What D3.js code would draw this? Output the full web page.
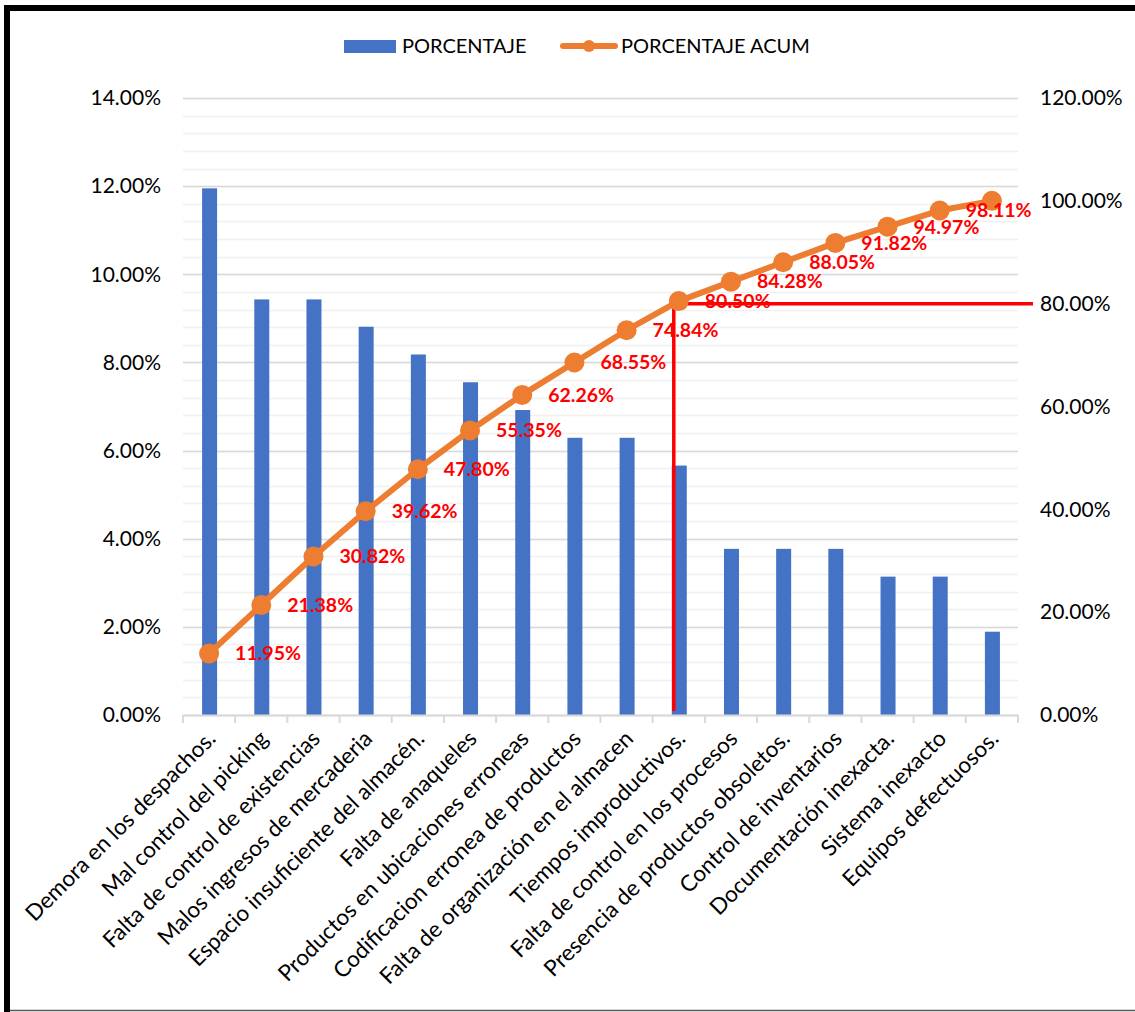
<!DOCTYPE html>
<html><head><meta charset="utf-8">
<script src="https://cdn.jsdelivr.net/npm/d3@7"></script>
<style>
html,body{margin:0;padding:0;background:#fff;}
svg{display:block;font-family:Lato,"Open Sans",sans-serif;}
</style></head>
<body>
<svg id="chart" width="1135" height="1012"></svg>
<script>
const categories = ["Demora en los despachos.","Mal control del picking","Falta de control de existencias","Malos ingresos de mercaderia","Espacio insuficiente del almacén.","Falta de anaqueles","Productos en ubicaciones erroneas","Codificacion erronea de productos","Falta de organización en el almacen","Tiempos improductivos.","Falta de control en los procesos","Presencia de productos obsoletos.","Control de inventarios","Documentación inexacta.","Sistema inexacto","Equipos defectuosos."];
const porcentaje = [11.95,9.43,9.43,8.81,8.18,7.55,6.92,6.29,6.29,5.66,3.77,3.77,3.77,3.14,3.14,1.89];
const porcentajeAcum = [11.95,21.38,30.82,39.62,47.80,55.35,62.26,68.55,74.84,80.50,84.28,88.05,91.82,94.97,98.11,100];
const acumLabels = ["11.95%","21.38%","30.82%","39.62%","47.80%","55.35%","62.26%","68.55%","74.84%","80.50%","84.28%","88.05%","91.82%","94.97%","98.11%",""];
const leftTicks = [0,2,4,6,8,10,12,14];
const rightTicks = [0,20,40,60,80,100,120];
const seriesNames = ["PORCENTAJE","PORCENTAJE ACUM"];
const paretoLimit = 80;

const svg = d3.select("#chart");
const W = 1135, H = 1012;
const plot = {left:183, right:1018, top:98, bottom:715};

// frame
svg.append("rect").attr("x",0).attr("y",0).attr("width",W).attr("height",H).attr("fill","#fff");
svg.append("line").attr("x1",7).attr("x2",7).attr("y1",5).attr("y2",1012).attr("stroke","#000").attr("stroke-width",6);
svg.append("line").attr("x1",4).attr("x2",1135).attr("y1",8).attr("y2",8).attr("stroke","#000").attr("stroke-width",6);
svg.append("line").attr("x1",10).attr("x2",1135).attr("y1",1010.5).attr("y2",1010.5).attr("stroke","#595959").attr("stroke-width",1.5);

const x = d3.scaleBand().domain(categories).range([plot.left, plot.right]);
const yL = d3.scaleLinear().domain([0,14]).range([plot.bottom, plot.top]);
const yR = d3.scaleLinear().domain([0,120]).range([plot.bottom, plot.top]);

// minor gridlines
const minor = d3.range(0, 14.01, 0.4).map(v=>+v.toFixed(2));
svg.append("g").selectAll("line").data(minor).join("line")
  .attr("x1",plot.left).attr("x2",plot.right)
  .attr("y1",d=>Math.round(yL(d))+0.5).attr("y2",d=>Math.round(yL(d))+0.5)
  .attr("stroke","#f0f0f0").attr("stroke-width",1.5);
// major gridlines
svg.append("g").selectAll("line").data(leftTicks).join("line")
  .attr("x1",plot.left).attr("x2",plot.right)
  .attr("y1",d=>Math.round(yL(d))+0.5).attr("y2",d=>Math.round(yL(d))+0.5)
  .attr("stroke","#d9d9d9").attr("stroke-width",1.5);

// left axis
const axL = svg.append("g").attr("transform",`translate(${plot.left},0)`)
  .call(d3.axisLeft(yL).tickValues(leftTicks).tickFormat(d=>d.toFixed(2)+"%").tickSize(0).tickPadding(22));
axL.select(".domain").remove();
axL.selectAll("text").attr("font-family","Lato, sans-serif").attr("font-size",21).attr("fill","#000");

// right axis
const axR = svg.append("g").attr("transform",`translate(${plot.right},0)`)
  .call(d3.axisRight(yR).tickValues(rightTicks).tickFormat(d=>d.toFixed(2)+"%").tickSize(0).tickPadding(22));
axR.select(".domain").remove();
axR.selectAll("text").attr("font-family","Lato, sans-serif").attr("font-size",21).attr("fill","#000");

// bars
const barW = 15;
svg.append("g").selectAll("rect").data(porcentaje).join("rect")
  .attr("x",(d,i)=>x(categories[i])+x.bandwidth()/2-barW/2+0.5)
  .attr("width",barW)
  .attr("y",d=>yL(d))
  .attr("height",d=>plot.bottom-yL(d))
  .attr("fill","#4472C4");

// x axis
const axX = svg.append("g").attr("transform",`translate(0,${plot.bottom})`)
  .call(d3.axisBottom(x).tickSize(0).tickFormat(""));
axX.select(".domain").attr("stroke","#d9d9d9").attr("stroke-width",2);
const bounds = categories.map(c=>x(c)).concat([plot.right]);
svg.append("g").selectAll("line").data(bounds).join("line")
  .attr("x1",d=>d).attr("x2",d=>d).attr("y1",plot.bottom).attr("y2",plot.bottom+8)
  .attr("stroke","#d9d9d9").attr("stroke-width",2);

// category labels
svg.append("g").selectAll("text").data(categories).join("text")
  .attr("transform",d=>`translate(${x(d)+x.bandwidth()/2+8},${plot.bottom+25}) rotate(-45)`)
  .attr("text-anchor","end")
  .attr("font-size",22.5).attr("fill","#000")
  .text(d=>d);

// red pareto lines
const cut = x(categories[9]) + x.bandwidth()/2 - 5;
svg.append("path")
  .attr("d",`M${cut},${plot.bottom-4} L${cut},${yR(paretoLimit)} L${plot.right+15},${yR(paretoLimit)}`)
  .attr("fill","none").attr("stroke","#ff0000").attr("stroke-width",3.5);

// cumulative line
const line = d3.line().x((d,i)=>x(categories[i])+x.bandwidth()/2).y(d=>yR(d));
svg.append("path").datum(porcentajeAcum).attr("d",line)
  .attr("fill","none").attr("stroke","#ED7D31").attr("stroke-width",6).attr("stroke-linejoin","round");
svg.append("g").selectAll("circle").data(porcentajeAcum).join("circle")
  .attr("cx",(d,i)=>x(categories[i])+x.bandwidth()/2).attr("cy",d=>yR(d)).attr("r",10)
  .attr("fill","#ED7D31");

// data labels
svg.append("g").selectAll("text").data(porcentajeAcum).join("text")
  .attr("x",(d,i)=>x(categories[i])+x.bandwidth()/2+26)
  .attr("y",d=>yR(d))
  .attr("dy","0.35em")
  .attr("font-size",19.5).attr("font-weight","bold").attr("fill","#ff0000")
  .text((d,i)=>acumLabels[i]);

// legend
const lg = svg.append("g");
lg.append("rect").attr("x",344).attr("y",40).attr("width",52).attr("height",13).attr("fill","#4472C4");
lg.append("text").attr("x",402).attr("y",46).attr("dy","0.35em").attr("font-size",20).attr("fill","#000").text(seriesNames[0]);
lg.append("line").attr("x1",563).attr("x2",615).attr("y1",46).attr("y2",46).attr("stroke","#ED7D31").attr("stroke-width",6).attr("stroke-linecap","round");
lg.append("circle").attr("cx",589).attr("cy",46).attr("r",6).attr("fill","#ED7D31");
lg.append("text").attr("x",621).attr("y",46).attr("dy","0.35em").attr("font-size",20).attr("fill","#000").text(seriesNames[1]);
</script>
</body></html>
